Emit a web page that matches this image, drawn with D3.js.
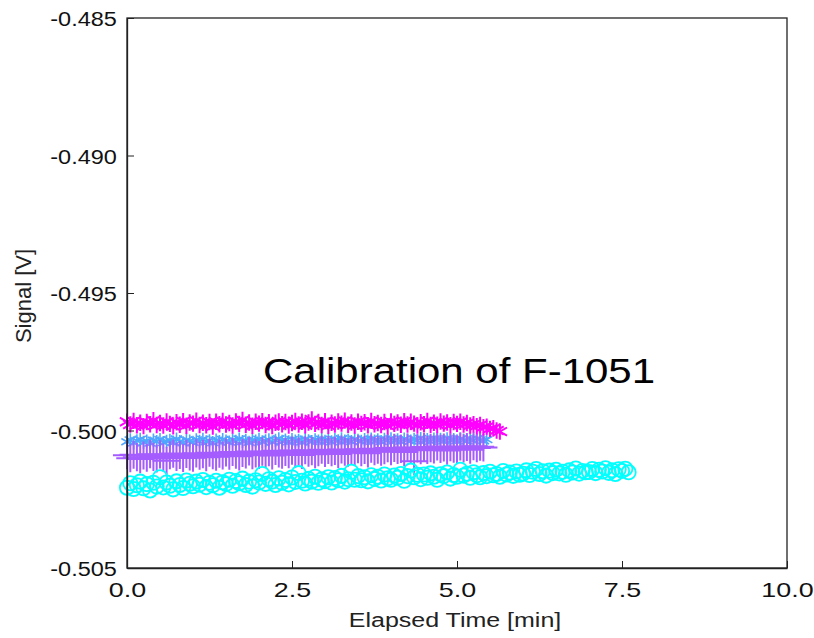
<!DOCTYPE html>
<html><head><meta charset="utf-8">
<script src="https://cdn.jsdelivr.net/npm/d3@7"></script>
<style>body{margin:0;background:#fff}text{font-family:"Liberation Sans",Arial,sans-serif}</style>
</head><body><svg id="c" width="814" height="638"></svg>
<script>
const xTicks=[0,2.5,5,7.5,10];
const yTicks=[-0.485,-0.490,-0.495,-0.500,-0.505];
const timeStep=0.05; // min between samples
const magenta=[
-0.49968,-0.49978,-0.49965,-0.49981,-0.49972,-0.49984,-0.49969,-0.49977,-0.49963,-0.49980,
-0.49973,-0.49982,-0.49967,-0.49976,-0.49985,-0.49970,-0.49979,-0.49966,-0.49983,-0.49971,
-0.49975,-0.49964,-0.49980,-0.49972,-0.49981,-0.49969,-0.49986,-0.49968,-0.49977,-0.49965,
-0.49978,-0.49973,-0.49982,-0.49967,-0.49976,-0.49962,-0.49979,-0.49971,-0.49983,-0.49968,
-0.49975,-0.49966,-0.49980,-0.49970,-0.49984,-0.49972,-0.49967,-0.49977,-0.49969,-0.49982,
-0.49973,-0.49965,-0.49978,-0.49968,-0.49981,-0.49971,-0.49960,-0.49976,-0.49969,-0.49980,
-0.49966,-0.49983,-0.49972,-0.49978,-0.49967,-0.49975,-0.49964,-0.49979,-0.49971,-0.49982,
-0.49968,-0.49976,-0.49970,-0.49981,-0.49965,-0.49977,-0.49973,-0.49980,-0.49969,-0.49984,
-0.49967,-0.49976,-0.49971,-0.49979,-0.49966,-0.49978,-0.49968,-0.49975,-0.49982,-0.49970,
-0.49977,-0.49965,-0.49980,-0.49972,-0.49979,-0.49967,-0.49975,-0.49971,-0.49981,-0.49969,
-0.49976,-0.49968,-0.49978,-0.49973,-0.49982,-0.49977,-0.49984,-0.49980,-0.49988,-0.49986,
-0.49994,-0.49992,-0.50000,-0.50004];
const blue=[
-0.50041,-0.50034,-0.50045,-0.50037,-0.50032,-0.50043,-0.50038,-0.50046,-0.50035,-0.50040,
-0.50033,-0.50044,-0.50039,-0.50036,-0.50042,-0.50031,-0.50040,-0.50045,-0.50035,-0.50038,
-0.50043,-0.50034,-0.50039,-0.50032,-0.50041,-0.50037,-0.50044,-0.50035,-0.50040,-0.50033,
-0.50038,-0.50042,-0.50034,-0.50039,-0.50031,-0.50040,-0.50036,-0.50043,-0.50035,-0.50038,
-0.50032,-0.50041,-0.50037,-0.50034,-0.50042,-0.50036,-0.50030,-0.50039,-0.50035,-0.50041,
-0.50033,-0.50038,-0.50036,-0.50042,-0.50031,-0.50037,-0.50040,-0.50034,-0.50038,-0.50032,
-0.50039,-0.50035,-0.50041,-0.50033,-0.50037,-0.50030,-0.50038,-0.50035,-0.50040,-0.50032,
-0.50036,-0.50039,-0.50033,-0.50037,-0.50031,-0.50038,-0.50034,-0.50040,-0.50032,-0.50036,
-0.50030,-0.50037,-0.50034,-0.50039,-0.50031,-0.50035,-0.50038,-0.50032,-0.50036,-0.50029,
-0.50037,-0.50033,-0.50039,-0.50031,-0.50035,-0.50032,-0.50038,-0.50030,-0.50036,-0.50033,
-0.50037,-0.50031,-0.50035,-0.50038,-0.50032,-0.50036,-0.50030,-0.50034,-0.50037,-0.50033];
const purple=[
-0.50090,-0.50101,-0.50088,-0.50097,-0.50104,-0.50091,-0.50099,-0.50086,-0.50096,-0.50102,
-0.50087,-0.50098,-0.50110,-0.50090,-0.50084,-0.50096,-0.50089,-0.50100,-0.50085,-0.50094,
-0.50099,-0.50083,-0.50092,-0.50086,-0.50097,-0.50081,-0.50090,-0.50095,-0.50084,-0.50091,
-0.50080,-0.50092,-0.50078,-0.50088,-0.50094,-0.50082,-0.50087,-0.50076,-0.50090,-0.50083,
-0.50089,-0.50077,-0.50085,-0.50079,-0.50091,-0.50074,-0.50083,-0.50088,-0.50078,-0.50086,
-0.50073,-0.50084,-0.50077,-0.50089,-0.50072,-0.50081,-0.50075,-0.50086,-0.50079,-0.50070,
-0.50082,-0.50071,-0.50079,-0.50074,-0.50085,-0.50069,-0.50077,-0.50081,-0.50073,-0.50078,
-0.50068,-0.50079,-0.50071,-0.50083,-0.50066,-0.50075,-0.50070,-0.50077,-0.50072,-0.50064,
-0.50075,-0.50063,-0.50071,-0.50067,-0.50078,-0.50062,-0.50070,-0.50112,-0.50065,-0.50072,
-0.50060,-0.50071,-0.50064,-0.50069,-0.50058,-0.50067,-0.50062,-0.50073,-0.50061,-0.50066,
-0.50068,-0.50058,-0.50065,-0.50060,-0.50070,-0.50057,-0.50064,-0.50059,-0.50062];
const cyan=[
-0.50208,-0.50192,-0.50213,-0.50199,-0.50186,-0.50210,-0.50195,-0.50218,-0.50190,-0.50204,
-0.50170,-0.50207,-0.50189,-0.50201,-0.50214,-0.50185,-0.50198,-0.50209,-0.50182,-0.50194,
-0.50203,-0.50186,-0.50197,-0.50180,-0.50206,-0.50190,-0.50199,-0.50183,-0.50208,-0.50188,
-0.50195,-0.50179,-0.50201,-0.50184,-0.50192,-0.50175,-0.50198,-0.50186,-0.50204,-0.50181,
-0.50189,-0.50158,-0.50194,-0.50177,-0.50186,-0.50198,-0.50174,-0.50190,-0.50180,-0.50196,
-0.50171,-0.50187,-0.50155,-0.50183,-0.50193,-0.50176,-0.50186,-0.50168,-0.50190,-0.50178,
-0.50184,-0.50170,-0.50189,-0.50173,-0.50181,-0.50165,-0.50186,-0.50177,-0.50150,-0.50179,
-0.50166,-0.50181,-0.50170,-0.50185,-0.50163,-0.50176,-0.50168,-0.50182,-0.50160,-0.50174,
-0.50179,-0.50164,-0.50172,-0.50158,-0.50183,-0.50166,-0.50146,-0.50170,-0.50161,-0.50177,
-0.50160,-0.50172,-0.50156,-0.50168,-0.50179,-0.50159,-0.50166,-0.50153,-0.50175,-0.50162,
-0.50168,-0.50143,-0.50164,-0.50157,-0.50172,-0.50152,-0.50163,-0.50170,-0.50155,-0.50166,
-0.50150,-0.50163,-0.50158,-0.50168,-0.50147,-0.50160,-0.50153,-0.50165,-0.50149,-0.50161,
-0.50157,-0.50145,-0.50162,-0.50150,-0.50140,-0.50158,-0.50148,-0.50164,-0.50146,-0.50155,
-0.50143,-0.50156,-0.50150,-0.50161,-0.50145,-0.50153,-0.50138,-0.50157,-0.50147,-0.50152,
-0.50151,-0.50140,-0.50155,-0.50143,-0.50149,-0.50137,-0.50154,-0.50145,-0.50158,-0.50141,
-0.50147,-0.50139,-0.50152];
const seriesNames=["blue","purple","cyan","magenta"];
const seriesData={magenta,blue,purple,cyan};
const seriesColor={magenta:"#ff00ff",blue:"#4ea6ff",purple:"#a45cff",cyan:"#00ffff"};
const seriesSymbol={magenta:d3.symbolAsterisk,blue:d3.symbolAsterisk,purple:d3.symbolPlus,cyan:d3.symbolCircle};
const seriesSize={magenta:190,blue:120,purple:260,cyan:160};
const seriesWidth={magenta:2,blue:1.6,purple:2,cyan:1.8};

const svg=d3.select("#c");
const m={l:127,t:18,r:27,b:70};
const W=814-m.l-m.r, H=638-m.t-m.b;
const x=d3.scaleLinear().domain([0,10]).range([0,W]);
const y=d3.scaleLinear().domain([-0.505,-0.485]).range([H,0]);
const g=svg.append("g").attr("transform",`translate(${m.l},${m.t})`);

seriesNames.forEach(n=>{
  const sym=d3.symbol().type(seriesSymbol[n]).size(seriesSize[n]);
  g.append("g").selectAll("path").data(seriesData[n]).join("path")
   .attr("transform",(d,i)=>`translate(${x(i*timeStep)},${y(d)})`)
   .attr("d",sym).attr("fill","none").attr("stroke",seriesColor[n]).attr("stroke-width",seriesWidth[n]);
});

// frame
g.append("rect").attr("width",W).attr("height",H).attr("fill","none").attr("stroke","#222").attr("stroke-width",1.3);

const ya=g.append("g").call(d3.axisLeft(y).tickValues(yTicks).tickSizeInner(-7).tickSizeOuter(0).tickPadding(9).tickFormat(d=>d3.format(".3f")(d).replace("\u2212","-")));
const xa=g.append("g").attr("transform",`translate(0,${H})`).call(d3.axisBottom(x).tickValues(xTicks).tickSizeInner(-7).tickSizeOuter(0).tickPadding(14).tickFormat(d3.format(".1f")));
[ya,xa].forEach(a=>{a.select(".domain").attr("stroke","#222").attr("stroke-width",1.3);a.selectAll("line").attr("stroke","#222");a.selectAll("text").attr("font-size",21).attr("fill","#111").attr("font-family","'Liberation Sans',Arial,sans-serif");});
ya.selectAll("text").attr("dy","0.36em").attr("transform","scale(1.12,1)");
xa.selectAll("text").attr("transform","scale(1.28,1)");

svg.append("text").attr("transform","translate(455,627) scale(1.25,1)").attr("text-anchor","middle").attr("font-size",20).attr("fill","#222").text("Elapsed Time [min]");
svg.append("text").attr("transform","translate(31,296) rotate(-90)").attr("text-anchor","middle").attr("font-size",22).attr("fill","#222").text("Signal [V]");
svg.append("text").attr("transform","translate(263,383) scale(1.2,1)").attr("font-size",35).attr("fill","#000").text("Calibration of F-1051");
</script></body></html>
